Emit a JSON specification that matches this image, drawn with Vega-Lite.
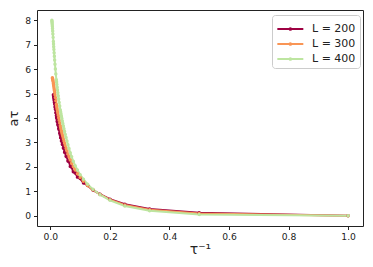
{
  "$schema": "https://vega.github.io/schema/vega-lite/v6.json",
  "width": 326,
  "height": 216,
  "autosize": {"type": "none"},
  "padding": {"left": 37, "top": 10, "right": 10, "bottom": 41},
  "config": {
    "font": "DejaVu Sans",
    "view": {"stroke": "#222", "strokeWidth": 1},
    "axis": {"grid": false, "domain": false, "tickColor": "#222", "tickSize": 3.5, "labelFont": "DejaVu Sans", "labelFontSize": 9.2, "labelColor": "#222", "titleFont": "DejaVu Sans", "titleFontWeight": "normal", "titleColor": "#222"}
  },
  "data": {"values": [
    {"L":"L = 200","x":1,"y":0.00},{"L":"L = 200","x":0.5,"y":0.12},{"L":"L = 200","x":0.3333,"y":0.28},{"L":"L = 200","x":0.25,"y":0.47},{"L":"L = 200","x":0.2,"y":0.68},{"L":"L = 200","x":0.1667,"y":0.88},{"L":"L = 200","x":0.1429,"y":1.05},{"L":"L = 200","x":0.125,"y":1.24},{"L":"L = 200","x":0.1111,"y":1.34},{"L":"L = 200","x":0.1,"y":1.52},{"L":"L = 200","x":0.0909,"y":1.58},{"L":"L = 200","x":0.0833,"y":1.75},{"L":"L = 200","x":0.0769,"y":1.80},{"L":"L = 200","x":0.0714,"y":1.98},{"L":"L = 200","x":0.0667,"y":2.02},{"L":"L = 200","x":0.0625,"y":2.21},{"L":"L = 200","x":0.0588,"y":2.24},{"L":"L = 200","x":0.0556,"y":2.40},{"L":"L = 200","x":0.0526,"y":2.43},{"L":"L = 200","x":0.05,"y":2.58},{"L":"L = 200","x":0.0476,"y":2.60},{"L":"L = 200","x":0.0455,"y":2.75},{"L":"L = 200","x":0.0435,"y":2.77},{"L":"L = 200","x":0.0417,"y":2.91},{"L":"L = 200","x":0.04,"y":2.93},{"L":"L = 200","x":0.0385,"y":3.06},{"L":"L = 200","x":0.037,"y":3.06},{"L":"L = 200","x":0.0357,"y":3.19},{"L":"L = 200","x":0.0345,"y":3.19},{"L":"L = 200","x":0.0333,"y":3.30},{"L":"L = 200","x":0.0313,"y":3.38},{"L":"L = 200","x":0.0294,"y":3.52},{"L":"L = 200","x":0.0278,"y":3.57},{"L":"L = 200","x":0.0263,"y":3.69},{"L":"L = 200","x":0.025,"y":3.73},{"L":"L = 200","x":0.0238,"y":3.84},{"L":"L = 200","x":0.0227,"y":3.87},{"L":"L = 200","x":0.0217,"y":3.98},{"L":"L = 200","x":0.0208,"y":4.02},{"L":"L = 200","x":0.02,"y":4.10},{"L":"L = 200","x":0.0182,"y":4.21},{"L":"L = 200","x":0.0167,"y":4.36},{"L":"L = 200","x":0.0154,"y":4.45},{"L":"L = 200","x":0.0143,"y":4.57},{"L":"L = 200","x":0.0133,"y":4.64},{"L":"L = 200","x":0.0125,"y":4.73},{"L":"L = 200","x":0.0118,"y":4.80},{"L":"L = 200","x":0.0111,"y":4.86},{"L":"L = 200","x":0.0105,"y":4.91},{"L":"L = 200","x":0.01,"y":4.95},
    {"L":"L = 300","x":1,"y":0.00},{"L":"L = 300","x":0.5,"y":0.09},{"L":"L = 300","x":0.3333,"y":0.25},{"L":"L = 300","x":0.25,"y":0.44},{"L":"L = 300","x":0.2,"y":0.66},{"L":"L = 300","x":0.1667,"y":0.87},{"L":"L = 300","x":0.1429,"y":1.06},{"L":"L = 300","x":0.125,"y":1.24},{"L":"L = 300","x":0.1111,"y":1.41},{"L":"L = 300","x":0.1,"y":1.57},{"L":"L = 300","x":0.0909,"y":1.72},{"L":"L = 300","x":0.0833,"y":1.87},{"L":"L = 300","x":0.0769,"y":2.01},{"L":"L = 300","x":0.0714,"y":2.15},{"L":"L = 300","x":0.0667,"y":2.28},{"L":"L = 300","x":0.0625,"y":2.41},{"L":"L = 300","x":0.0588,"y":2.53},{"L":"L = 300","x":0.0556,"y":2.65},{"L":"L = 300","x":0.0526,"y":2.76},{"L":"L = 300","x":0.05,"y":2.87},{"L":"L = 300","x":0.0476,"y":2.97},{"L":"L = 300","x":0.0455,"y":3.06},{"L":"L = 300","x":0.0435,"y":3.15},{"L":"L = 300","x":0.0417,"y":3.24},{"L":"L = 300","x":0.04,"y":3.32},{"L":"L = 300","x":0.0385,"y":3.40},{"L":"L = 300","x":0.037,"y":3.47},{"L":"L = 300","x":0.0357,"y":3.54},{"L":"L = 300","x":0.0345,"y":3.61},{"L":"L = 300","x":0.0333,"y":3.68},{"L":"L = 300","x":0.0313,"y":3.80},{"L":"L = 300","x":0.0294,"y":3.91},{"L":"L = 300","x":0.0278,"y":4.01},{"L":"L = 300","x":0.0263,"y":4.11},{"L":"L = 300","x":0.025,"y":4.20},{"L":"L = 300","x":0.0238,"y":4.28},{"L":"L = 300","x":0.0227,"y":4.36},{"L":"L = 300","x":0.0217,"y":4.43},{"L":"L = 300","x":0.0208,"y":4.50},{"L":"L = 300","x":0.02,"y":4.56},{"L":"L = 300","x":0.0182,"y":4.71},{"L":"L = 300","x":0.0167,"y":4.84},{"L":"L = 300","x":0.0154,"y":4.95},{"L":"L = 300","x":0.0143,"y":5.05},{"L":"L = 300","x":0.0133,"y":5.13},{"L":"L = 300","x":0.0125,"y":5.20},{"L":"L = 300","x":0.0118,"y":5.27},{"L":"L = 300","x":0.0111,"y":5.33},{"L":"L = 300","x":0.0105,"y":5.38},{"L":"L = 300","x":0.01,"y":5.42},{"L":"L = 300","x":0.0091,"y":5.49},{"L":"L = 300","x":0.0083,"y":5.55},{"L":"L = 300","x":0.0077,"y":5.59},{"L":"L = 300","x":0.0071,"y":5.62},{"L":"L = 300","x":0.0067,"y":5.65},
    {"L":"L = 400","x":1,"y":0.00},{"L":"L = 400","x":0.5,"y":0.05},{"L":"L = 400","x":0.3333,"y":0.20},{"L":"L = 400","x":0.25,"y":0.40},{"L":"L = 400","x":0.2,"y":0.63},{"L":"L = 400","x":0.1667,"y":0.86},{"L":"L = 400","x":0.1429,"y":1.08},{"L":"L = 400","x":0.125,"y":1.29},{"L":"L = 400","x":0.1111,"y":1.49},{"L":"L = 400","x":0.1,"y":1.68},{"L":"L = 400","x":0.0909,"y":1.87},{"L":"L = 400","x":0.0833,"y":2.05},{"L":"L = 400","x":0.0769,"y":2.23},{"L":"L = 400","x":0.0714,"y":2.41},{"L":"L = 400","x":0.0667,"y":2.58},{"L":"L = 400","x":0.0625,"y":2.75},{"L":"L = 400","x":0.0588,"y":2.91},{"L":"L = 400","x":0.0556,"y":3.06},{"L":"L = 400","x":0.0526,"y":3.20},{"L":"L = 400","x":0.05,"y":3.33},{"L":"L = 400","x":0.0476,"y":3.45},{"L":"L = 400","x":0.0455,"y":3.56},{"L":"L = 400","x":0.0435,"y":3.67},{"L":"L = 400","x":0.0417,"y":3.78},{"L":"L = 400","x":0.04,"y":3.88},{"L":"L = 400","x":0.0385,"y":3.98},{"L":"L = 400","x":0.037,"y":4.07},{"L":"L = 400","x":0.0357,"y":4.16},{"L":"L = 400","x":0.0345,"y":4.25},{"L":"L = 400","x":0.0333,"y":4.33},{"L":"L = 400","x":0.0313,"y":4.49},{"L":"L = 400","x":0.0294,"y":4.64},{"L":"L = 400","x":0.0278,"y":4.78},{"L":"L = 400","x":0.0263,"y":4.91},{"L":"L = 400","x":0.025,"y":5.03},{"L":"L = 400","x":0.0238,"y":5.15},{"L":"L = 400","x":0.0227,"y":5.26},{"L":"L = 400","x":0.0217,"y":5.37},{"L":"L = 400","x":0.0208,"y":5.47},{"L":"L = 400","x":0.02,"y":5.57},{"L":"L = 400","x":0.0182,"y":5.80},{"L":"L = 400","x":0.0167,"y":6.01},{"L":"L = 400","x":0.0154,"y":6.20},{"L":"L = 400","x":0.0143,"y":6.37},{"L":"L = 400","x":0.0133,"y":6.53},{"L":"L = 400","x":0.0125,"y":6.67},{"L":"L = 400","x":0.0118,"y":6.80},{"L":"L = 400","x":0.0111,"y":6.92},{"L":"L = 400","x":0.0105,"y":7.03},{"L":"L = 400","x":0.01,"y":7.13},{"L":"L = 400","x":0.0091,"y":7.30},{"L":"L = 400","x":0.0083,"y":7.44},{"L":"L = 400","x":0.0077,"y":7.56},{"L":"L = 400","x":0.0071,"y":7.66},{"L":"L = 400","x":0.0067,"y":7.74},{"L":"L = 400","x":0.0063,"y":7.81},{"L":"L = 400","x":0.0059,"y":7.87},{"L":"L = 400","x":0.0056,"y":7.92},{"L":"L = 400","x":0.0053,"y":7.96},{"L":"L = 400","x":0.005,"y":8.00}
  ]},
  "mark": {"type": "line", "strokeWidth": 2, "point": {"filled": true, "size": 12, "opacity": 1}},
  "encoding": {
    "x": {"field": "x", "type": "quantitative", "scale": {"domain": [-0.045, 1.05], "nice": false, "zero": false},
      "axis": {"values": [0, 0.2, 0.4, 0.6, 0.8, 1.0], "format": ".1f", "title": "τ⁻¹", "titleFontSize": 14, "titlePadding": 1, "labelPadding": 3}},
    "y": {"field": "y", "type": "quantitative", "scale": {"domain": [-0.42, 8.42], "nice": false, "zero": false},
      "axis": {"values": [0, 1, 2, 3, 4, 5, 6, 7, 8], "format": "d", "title": "aτ", "titleFontSize": 13, "titlePadding": 4, "labelPadding": 3}},
    "color": {"field": "L", "type": "nominal",
      "scale": {"domain": ["L = 200", "L = 300", "L = 400"], "range": ["#9e0142", "#f99555", "#bde5a0"]},
      "legend": {"title": null, "orient": "none", "legendX": 235, "legendY": 5, "symbolType": "M-1,0H2M0.4,0A0.1,0.1 0 1,1 0.6,0A0.1,0.1 0 1,1 0.4,0", "symbolStrokeWidth": 2, "symbolSize": 300, "labelFontSize": 11, "labelFont": "DejaVu Sans", "labelColor": "#222", "fillColor": "white", "strokeColor": "#ccc", "cornerRadius": 3, "padding": 4, "rowPadding": 0, "labelOffset": 16}
    },
    "order": {"field": "x", "type": "quantitative"}
  }
}
